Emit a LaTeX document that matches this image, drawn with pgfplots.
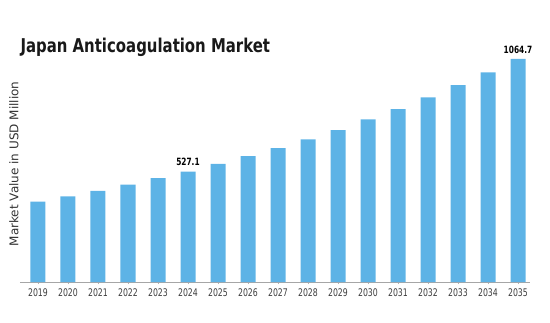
\documentclass[border=0pt]{standalone}
\usepackage{pgfplots}
\pgfplotsset{compat=1.18}
\usepackage{fontspec}
\setmainfont{DejaVu Sans}
\newfontfamily\condfont[FakeStretch=0.74]{DejaVu Sans}
\newfontfamily\titlefont[FakeStretch=0.785]{DejaVu Sans}
\definecolor{barblue}{RGB}{93,179,230}
\definecolor{ticktext}{RGB}{60,60,60}
\begin{document}
\begin{tikzpicture}[x=1pt,y=1pt]
\useasboundingbox (0,0) rectangle (550,322);
\begin{axis}[
  at={(20pt,40pt)}, anchor=south west,
  scale only axis, width=510pt, height=240pt,
  xmin=-0.6, xmax=16.4, ymin=0, ymax=1145,
  axis x line*=bottom, axis y line=none,
  x axis line style={draw=gray!70, line width=0.8pt, -},
  xtick={0,...,16},
  xticklabels={2019,2020,2021,2022,2023,2024,2025,2026,2027,2028,2029,2030,2031,2032,2033,2034,2035},
  xticklabel style={font=\condfont\fontsize{10.5}{12}\selectfont, text=ticktext, yshift=-1pt},
  major tick length=2pt, tick align=outside,
  x tick style={draw=gray!60},
  ytick=\empty,
  clip=false,
]
\addplot[ybar, bar width=15pt, fill=barblue, draw=none] coordinates {
 (0,383) (1,409) (2,435) (3,464) (4,495) (5,527.1) (6,564) (7,601) (8,639)
 (9,681) (10,725) (11,776) (12,825) (13,881) (14,939) (15,1000) (16,1064.7)
};
\addplot[draw=none, mark=none, nodes near coords, point meta=explicit symbolic,
  every node near coord/.append style={font=\condfont\bfseries\fontsize{10}{12}\selectfont, text=black, anchor=south, yshift=2pt}]
  coordinates {(5,527.1) [527.1] (16,1064.7) [1064.7]};
\end{axis}
\node[anchor=west, font=\titlefont\bfseries\fontsize{19}{22}\selectfont, text=black!90] at (17,275) {Japan Anticoagulation Market};
\node[rotate=90, font=\fontsize{12}{14}\selectfont, text=black!80] at (14,158) {Market Value in USD Million};
\end{tikzpicture}
\end{document}
